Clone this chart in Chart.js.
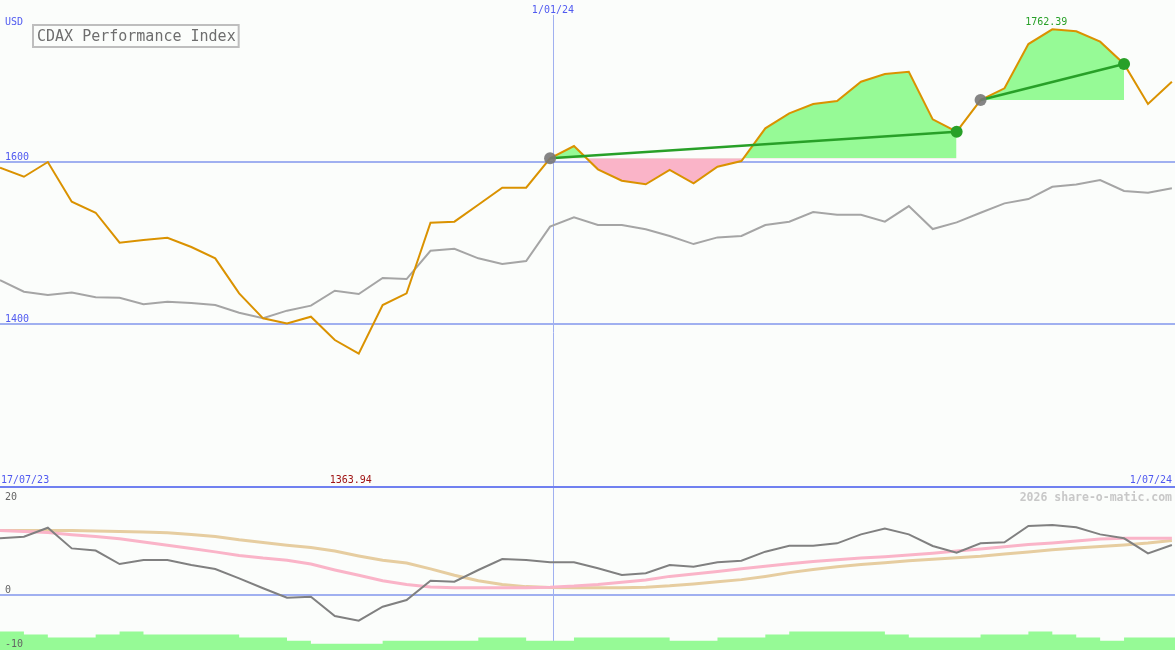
<!DOCTYPE html>
<html lang="en">
  <head>
    <meta charset="UTF-8" />
    <title>CDAX Performance Index</title>
    <style>
      body { margin: 0; background: #fbfdfb; }
      canvas { display: block; }
    </style>
  </head>
  <body>
    <canvas id="myChart" width="1175" height="650"></canvas>
    <script src="https://cdn.jsdelivr.net/npm/chart.js@4.4.1/dist/chart.umd.min.js"></script>
    <script>
      // weekly points, index 0 = 17/07/23
      const price = [1592.4, 1581.3, 1599.4, 1550.6, 1537.1, 1500.3, 1503.6, 1506.4, 1495, 1481.1,
        1438.1, 1407.4, 1401.2, 1409.4, 1380.7, 1363.94, 1423.7, 1438.1, 1524.8, 1526.1,
        1546.9, 1567.8, 1567.8, 1603.9, 1619, 1590.4, 1576.4, 1572, 1589.6, 1573.2,
        1593.6, 1600.6, 1640.8, 1659.2, 1670.6, 1674.3, 1698, 1707.5, 1710.3, 1651.8,
        1636.6, 1675.5, 1689.9, 1744.3, 1762.39, 1760, 1747.2, 1719.8, 1670.6, 1698];
      const bench = [1454.4, 1440.1, 1436, 1439.1, 1433.2, 1432.7, 1424.6, 1427.8, 1426.3, 1423.7,
        1414.2, 1407.4, 1416.8, 1423, 1441.3, 1437.2, 1457, 1455.6, 1490.4, 1492.9,
        1481.1, 1474.1, 1477.8, 1520, 1531.4, 1522, 1522, 1516.7, 1508.5, 1498.6,
        1506.8, 1508.5, 1522, 1526.1, 1538, 1534.7, 1534.7, 1526.1, 1545.3, 1517.1,
        1525.3, 1537.1, 1548.6, 1553.9, 1569, 1571.9, 1577.3, 1563.8, 1561.7, 1567.1];
      const osc = [10.47, 10.77, 12.44, 8.6, 8.2, 5.7, 6.44, 6.44, 5.5, 4.77,
        3.04, 1.19, -0.55, -0.37, -3.96, -4.83, -2.23, -0.98, 2.6, 2.41,
        4.59, 6.63, 6.44, 6.01, 6.01, 4.9, 3.66, 3.97, 5.5, 5.2,
        6.01, 6.31, 7.99, 9.1, 9.1, 9.54, 11.2, 12.3, 11.2, 9.04,
        7.8, 9.54, 9.73, 12.76, 12.94, 12.51, 11.2, 10.47, 7.68, 9.23];
      const oscFast = [11.9, 11.75, 11.55, 11.15, 10.8, 10.4, 9.8, 9.2, 8.6, 7.95,
        7.3, 6.8, 6.4, 5.7, 4.6, 3.6, 2.6, 1.9, 1.45, 1.3,
        1.3, 1.3, 1.3, 1.4, 1.6, 1.9, 2.3, 2.75, 3.4, 3.85,
        4.3, 4.8, 5.3, 5.75, 6.15, 6.5, 6.8, 7.05, 7.35, 7.7,
        8.1, 8.5, 8.9, 9.3, 9.6, 9.95, 10.35, 10.47, 10.47, 10.47];
      const oscSlow = [11.9, 11.9, 11.9, 11.9, 11.85, 11.75, 11.65, 11.5, 11.2, 10.8,
        10.2, 9.7, 9.2, 8.75, 8.1, 7.2, 6.4, 5.9, 4.8, 3.6,
        2.6, 1.9, 1.5, 1.35, 1.3, 1.3, 1.3, 1.4, 1.65, 2.0,
        2.4, 2.8, 3.4, 4.1, 4.7, 5.2, 5.6, 5.95, 6.3, 6.6,
        6.85, 7.15, 7.55, 7.95, 8.35, 8.65, 8.95, 9.25, 9.6, 10.05];
      const volume = [6, 6, 5, 4, 4, 5, 6, 5, 5, 5,
        5, 4, 4, 3, 2, 2, 2, 3, 3, 3,
        3, 4, 4, 3, 3, 4, 4, 4, 4, 3,
        3, 4, 4, 5, 6, 6, 6, 6, 5, 4,
        4, 4, 5, 5, 6, 5, 4, 3, 4, 4];
      // trend segments: [start index, end index]
      const trends = [[23, 40], [41, 47]];
      const priceGrid = [1600, 1400];
      const oscTicks = [20, 0, -10];
      const dateTicks = ["17/07/23", "1/01/24", "1/07/24"];
      const midDateIndex = 23.12;
      const title = "CDAX Performance Index";

      const pts = (arr, from = 0, to = arr.length - 1) =>
        arr.slice(from, to + 1).map((v, i) => ({ x: from + i, y: v }));

      const GREEN_FILL = "rgb(150,250,150)";
      const PINK_FILL = "rgb(250,180,200)";
      const TREND = "rgb(40,160,40)";

      const datasets = [];
      trends.forEach(([a, b]) => {
        datasets.push({
          data: pts(price, a, b),
          yAxisID: "y",
          borderWidth: 0,
          pointRadius: 0,
          fill: { target: { value: price[a] }, above: GREEN_FILL, below: PINK_FILL },
          order: 20,
        });
      });
      datasets.push({
        data: pts(volume).concat([{ x: volume.length, y: volume[volume.length - 1] }]),
        yAxisID: "yv",
        stepped: "after",
        borderWidth: 0,
        pointRadius: 0,
        backgroundColor: GREEN_FILL,
        fill: "start",
        order: 19,
      });
      datasets.push({ data: pts(oscSlow), yAxisID: "y2", borderColor: "rgb(230,205,160)", borderWidth: 3, order: 9 });
      datasets.push({ data: pts(oscFast), yAxisID: "y2", borderColor: "rgb(250,180,200)", borderWidth: 3, order: 8 });
      datasets.push({ data: pts(osc), yAxisID: "y2", borderColor: "rgb(128,128,128)", borderWidth: 2, order: 7 });
      datasets.push({ data: pts(bench), yAxisID: "y", borderColor: "rgb(165,165,165)", borderWidth: 2, order: 6 });
      datasets.push({ data: pts(price), yAxisID: "y", borderColor: "rgb(218,146,0)", borderWidth: 2, order: 5 });
      trends.forEach(([a, b]) => {
        datasets.push({
          data: [{ x: a, y: price[a] }, { x: b, y: price[b] }],
          yAxisID: "y",
          borderColor: TREND,
          borderWidth: 2.5,
          pointRadius: 6,
          pointBorderWidth: 0,
          pointBackgroundColor: ["rgba(120,120,120,0.9)", TREND],
          order: 3,
        });
      });

      const overlay = {
        id: "overlay",
        beforeDatasetsDraw(chart) {
          const { ctx, scales } = chart;
          const { x, y, y2 } = scales;
          const w = chart.width;
          ctx.save();
          ctx.fillStyle = "#fbfdfb";
          ctx.fillRect(0, 0, w, chart.height);
          ctx.strokeStyle = "rgb(160,176,240)";
          ctx.lineWidth = 2;
          priceGrid.forEach((v) => {
            const py = Math.round(y.getPixelForValue(v));
            ctx.beginPath();
            ctx.moveTo(0, py);
            ctx.lineTo(w, py);
            ctx.stroke();
          });
          const zy = Math.round(y2.getPixelForValue(0));
          ctx.beginPath();
          ctx.moveTo(0, zy);
          ctx.lineTo(w, zy);
          ctx.stroke();
          // vertical 1/01/24 marker
          const mx = Math.round(x.getPixelForValue(midDateIndex)) + 0.5;
          ctx.lineWidth = 1;
          ctx.beginPath();
          ctx.moveTo(mx, 15);
          ctx.lineTo(mx, chart.height);
          ctx.stroke();
          // panel separator at top of oscillator
          const sy = Math.round(y2.getPixelForValue(oscTicks[0]));
          ctx.strokeStyle = "rgb(112,128,240)";
          ctx.lineWidth = 2;
          ctx.beginPath();
          ctx.moveTo(0, sy);
          ctx.lineTo(w, sy);
          ctx.stroke();
          ctx.restore();
        },
        afterDatasetsDraw(chart) {
          const { ctx, scales } = chart;
          const { x, y, y2 } = scales;
          const w = chart.width;
          ctx.save();
          ctx.font = "10px 'DejaVu Sans Mono', monospace";
          ctx.textBaseline = "alphabetic";
          ctx.fillStyle = "rgb(80,90,240)";
          ctx.fillText("USD", 5, 25);
          priceGrid.forEach((v) => {
            ctx.fillText(String(v), 5, y.getPixelForValue(v) - 2);
          });
          const sy = y2.getPixelForValue(oscTicks[0]);
          ctx.fillText(dateTicks[0], 1, sy - 4);
          ctx.textAlign = "right";
          ctx.fillText(dateTicks[2], w - 3, sy - 4);
          ctx.textAlign = "center";
          ctx.fillText(dateTicks[1], x.getPixelForValue(midDateIndex), 13);
          // min / max labels
          const minV = Math.min(...price);
          const maxV = Math.max(...price);
          ctx.fillStyle = "rgb(160,20,20)";
          ctx.fillText(minV.toFixed(2), x.getPixelForValue(price.indexOf(minV)) - 8, sy - 4);
          ctx.fillStyle = "rgb(40,160,40)";
          ctx.fillText(maxV.toFixed(2), x.getPixelForValue(price.indexOf(maxV)) - 6, 25);
          // oscillator tick labels
          ctx.textAlign = "left";
          ctx.fillStyle = "rgb(100,100,100)";
          oscTicks.forEach((v, i) => {
            const py = y2.getPixelForValue(v);
            ctx.fillText(String(v), 5, i === 0 ? py + 13 : py - 2);
          });
          // watermark
          ctx.textAlign = "right";
          ctx.font = "bold 11.5px 'DejaVu Sans Mono', monospace";
          ctx.fillStyle = "rgb(200,200,200)";
          ctx.fillText("2026 share-o-matic.com", w - 3, sy + 14);
          // title box
          ctx.textAlign = "left";
          ctx.font = "15px 'DejaVu Sans Mono', monospace";
          const tw = ctx.measureText(title).width;
          ctx.fillStyle = "#fbfdfb";
          ctx.fillRect(33, 25, tw + 7, 22);
          ctx.strokeStyle = "rgb(190,190,190)";
          ctx.lineWidth = 2;
          ctx.strokeRect(33, 25, tw + 7, 22);
          ctx.fillStyle = "rgb(110,110,110)";
          ctx.fillText(title, 37, 41);
          ctx.restore();
        },
      };

      const ctx = document.getElementById("myChart").getContext("2d");
      new Chart(ctx, {
        type: "line",
        data: { datasets: datasets },
        options: {
          responsive: false,
          animation: false,
          devicePixelRatio: 1,
          layout: { padding: 0, autoPadding: false },
          elements: { point: { radius: 0 }, line: { tension: 0 } },
          plugins: { legend: { display: false }, tooltip: { enabled: false } },
          scales: {
            x: { type: "linear", min: 0, max: 49.13, display: false },
            y: { min: 1000, max: 1798.4, display: false },
            y2: { min: -10.27, max: 110.44, display: false },
            yv: { min: 0, max: 210, display: false },
          },
        },
        plugins: [overlay],
      });
    </script>
  </body>
</html>
